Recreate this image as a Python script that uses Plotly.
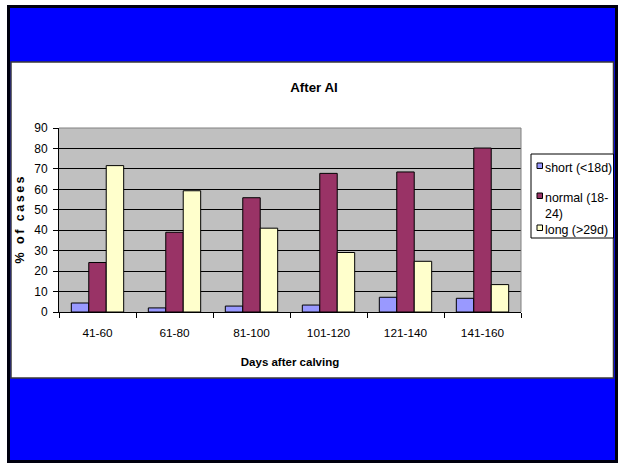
import plotly.graph_objects as go

# Share of cycle-length classes after AI, by days-after-calving interval
periods = ["41-60", "61-80", "81-100", "101-120", "121-140", "141-160"]
short_cycles = [4.4, 2.0, 2.9, 3.4, 7.2, 6.7]
normal_cycles = [24.2, 39.0, 55.9, 67.8, 68.5, 80.2]
long_cycles = [71.6, 59.3, 41.0, 29.1, 24.8, 13.4]

series_names = ["short (<18d)", "normal (18-<br>24)", "long (>29d)"]
series_colors = ["#9999FF", "#993366", "#FFFFCC"]

W, H = 621, 464
# plot-area box in pixels
PL, PR, PT, PB = 59, 521, 128, 312

FONT = "Liberation Sans, Arial, sans-serif"


def px_x(px):
    return (px - PL) / (PR - PL)


def px_y(py):
    return (PB - py) / (PB - PT)


def rect(x0, y0, x1, y1, fill, line_color=None, line_width=0, layer="below"):
    return dict(
        type="rect", xref="paper", yref="paper",
        x0=px_x(x0), x1=px_x(x1), y0=px_y(y1), y1=px_y(y0),
        fillcolor=fill, layer=layer,
        line=dict(color=line_color or fill, width=line_width),
    )


def font(size):
    return dict(family=FONT, size=size, color="#000000")


fig = go.Figure()
for name, vals, color in zip(series_names,
                             [short_cycles, normal_cycles, long_cycles],
                             series_colors):
    fig.add_trace(go.Bar(
        x=periods, y=vals, name=name, showlegend=False,
        marker=dict(color=color, line=dict(color="#000000", width=1)),
    ))

shapes = [
    # slide frame and background
    rect(7, 5, 618, 463, "#00000f"),
    rect(10, 8, 615, 460, "#0000FF"),
    # white chart panel
    rect(11, 62, 613.5, 378, "#FFFFFF", "#3a3a3a", 1.5),
    # grey plot area
    rect(PL, PT, PR, PB, "#C0C0C0"),
    # plot-area border on top and right
    dict(type="line", xref="paper", yref="paper", x0=0, x1=1, y0=1, y1=1,
         line=dict(color="#808080", width=1), layer="above"),
    dict(type="line", xref="paper", yref="paper", x0=1, x1=1, y0=0, y1=1,
         line=dict(color="#808080", width=1), layer="above"),
    # legend box
    rect(531, 154, 613.5, 238, "#FFFFFF", "#000000", 1, layer="above"),
]

# legend entries: swatch centre y (px) for each series
legend_rows = [166, 196, 228]
annotations = []
for name, color, cy in zip(series_names, series_colors, legend_rows):
    shapes.append(rect(537, cy - 3, 542.5, cy + 2.5, color, "#000000", 1,
                       layer="above"))
    annotations.append(dict(
        text=name, xref="paper", yref="paper",
        x=px_x(543), y=px_y(cy - 7), xanchor="left", yanchor="top",
        align="left", showarrow=False, font=font(12.4),
    ))

fig.update_layout(
    width=W, height=H,
    margin=dict(l=PL, r=W - PR, t=PT, b=H - PB, pad=0),
    paper_bgcolor="#FFFFFF",
    plot_bgcolor="rgba(0,0,0,0)",
    font=font(12),
    barmode="group", bargap=0.32, bargroupgap=0,
    showlegend=False,
    shapes=shapes,
    annotations=annotations,
    title=dict(
        text="<b>After AI</b>", font=font(13.3),
        xref="container", yref="container",
        x=314 / W, y=1 - 87 / H, xanchor="center", yanchor="middle",
    ),
    xaxis=dict(
        showline=True, linecolor="#000000", linewidth=1,
        ticks="outside", ticklen=5, tickcolor="#000000", tickson="boundaries",
        showgrid=False,
        tickfont=font(11.8), ticklabelstandoff=10,
        title=dict(text="<b>Days after calving</b>", standoff=18,
                   font=font(11.5)),
    ),
    yaxis=dict(
        range=[0, 90], dtick=10, tick0=0,
        showline=True, linecolor="#000000", linewidth=1,
        ticks="outside", ticklen=5, tickcolor="#000000",
        showgrid=True, gridcolor="#000000", gridwidth=1,
        zeroline=False,
        tickfont=font(12), ticklabelstandoff=3,
        title=dict(
            text="<b>%\u2009 \u2009o\u2009f\u2009 \u2009c\u2009a\u2009s\u2009e\u2009s</b>",
            standoff=6, font=font(12.5)),
    ),
)

fig.write_html("out.html")
